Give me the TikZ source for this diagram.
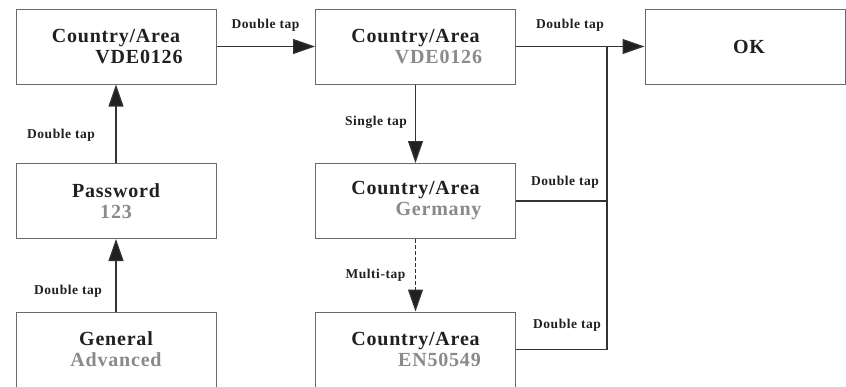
\documentclass[tikz,border=0pt]{standalone}
\usepackage{fontspec}
\setmainfont{Liberation Serif}[LetterSpace=4]
\usetikzlibrary{arrows.meta}
\definecolor{ink}{HTML}{231F20}
\definecolor{soft}{HTML}{8A8A8A}
\definecolor{edge}{HTML}{6A6A6A}
\definecolor{wire}{HTML}{333333}
\tikzset{
  box/.style={draw=edge, line width=1pt, minimum width=200pt, minimum height=75pt,
    inner sep=0pt, align=center, text=ink, font=\fontsize{20}{21}\selectfont\bfseries},
  wirestyle/.style={draw=wire, line width=1.2pt},
  arr/.style={wirestyle, -{Triangle[length=22pt,width=15pt,fill=ink]}},
  lbl/.style={text=ink, inner sep=0pt, anchor=base, font=\fontsize{13.5}{14}\selectfont\bfseries},
}
\newcommand{\grey}[1]{\textcolor{soft}{#1}}
\begin{document}
\begin{tikzpicture}[x=1pt,y=-1pt]
\clip (0,0) rectangle (846,386);
\fill[white] (0,0) rectangle (846,386);
% boxes
\node[box] (b1) at (116,46.5) {Country/Area\\\hspace*{46pt}VDE0126};
\node[box] (b2) at (415.5,46.5) {Country/Area\\\hspace*{46pt}\grey{VDE0126}};
\node[box] (ok) at (745,46.5) {\hspace*{8pt}OK};
\node[box] (pw) at (116,201) {Password\\\grey{123}};
\node[box] (de) at (415.5,201) {Country/Area\\\hspace*{46pt}\grey{Germany}};
\node[box] (gen) at (116,349.5) {General\\\grey{Advanced}};
\node[box] (en) at (415.5,349.5) {Country/Area\\\hspace*{48pt}\grey{EN50549}};
\coordinate (j) at (607,46.5);
% connectors
\draw[arr] (b1.east) -- (b2.west);
\draw[arr] (b2.east) -- (ok.west);
\draw[arr] (b2.south) -- (de.north);
\draw[arr, dash pattern=on 4pt off 2pt] (de.south) -- (en.north);
\draw[arr] (pw.north) -- (b1.south);
\draw[arr] (gen.north) -- (pw.south);
\draw[wirestyle] (en.east) -| (j);
\draw[wirestyle] (de.east) -- (de.east -| j);
% labels
\node[lbl] (l1) at (265.5,28) {Double tap};
\node[lbl] (l2) at (570,28) {Double tap};
\node[lbl] (l3) at (565,185) {Double tap};
\node[lbl] (l4) at (567,328) {Double tap};
\node[lbl] (l5) at (376,125) {Single tap};
\node[lbl] (l6) at (375.5,278) {Multi-tap};
\node[lbl] (l7) at (61,138) {Double tap};
\node[lbl] (l8) at (68,294) {Double tap};
\end{tikzpicture}
\end{document}
